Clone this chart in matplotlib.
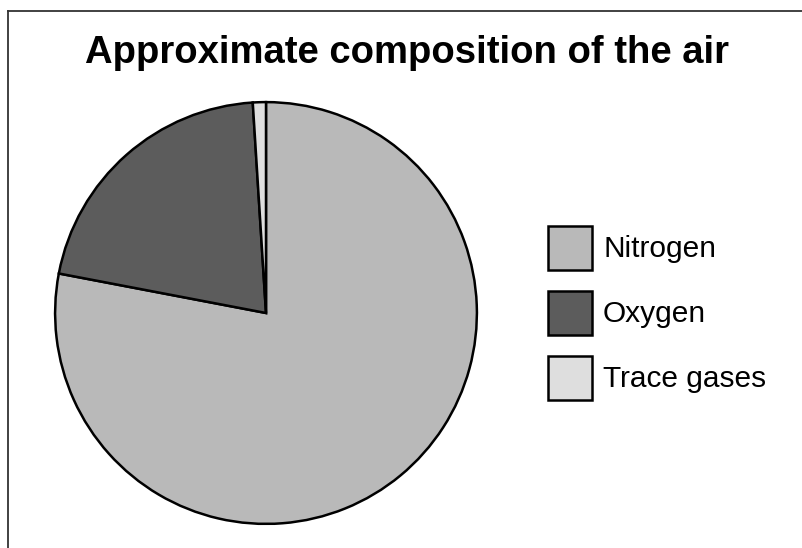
import matplotlib
matplotlib.use("Agg")
import matplotlib.pyplot as plt
from matplotlib.patches import Rectangle
from matplotlib.lines import Line2D

# air composition, percent by volume
gases = ["Nitrogen", "Oxygen", "Trace gases"]
percent = [78, 21, 1]
shades = ["#b9b9b9", "#5c5c5c", "#dedede"]

title = "Approximate composition of the air"
fonts = ["Liberation Sans", "DejaVu Sans"]

W, H = 802, 548
fig = plt.figure(figsize=(W / 100, H / 100), dpi=100)

# pie centred at (266, 313) px with a 213 px radius
cx, cy, r = 266, 313, 213
ax = fig.add_axes([(cx - r) / W, (H - cy - r) / H, 2 * r / W, 2 * r / H])
ax.pie(percent, colors=shades, startangle=90, counterclock=False, radius=1,
       wedgeprops=dict(edgecolor="black", linewidth=1.8))
ax.set_xlim(-1.01, 1.01)
ax.set_ylim(-1.01, 1.01)
ax.set_aspect("equal")
ax.axis("off")

fig.text(407 / W, 1 - 63 / H, title, ha="center", va="baseline",
         fontsize=27.5, fontweight="bold", family=fonts)

# hand-made legend to the right of the pie
box = 44
for i, (name, c) in enumerate(zip(gases, shades)):
    top = 226 + i * 65
    fig.patches.append(Rectangle((548 / W, 1 - (top + box) / H), box / W, box / H,
                                 transform=fig.transFigure, facecolor=c,
                                 edgecolor="black", linewidth=1.8))
    fig.text(603 / W, 1 - (257 + i * 65) / H, name, ha="left", va="baseline",
             fontsize=21.5, family=fonts)

# thin frame along the top and left edges
fig.lines.append(Line2D([8 / W, 8 / W], [0, 1 - 11 / H], transform=fig.transFigure,
                        color="#333333", linewidth=1.3))
fig.lines.append(Line2D([8 / W, 1], [1 - 11 / H, 1 - 11 / H], transform=fig.transFigure,
                        color="#333333", linewidth=1.3))

fig.savefig("out.png", dpi=100, facecolor="white")
